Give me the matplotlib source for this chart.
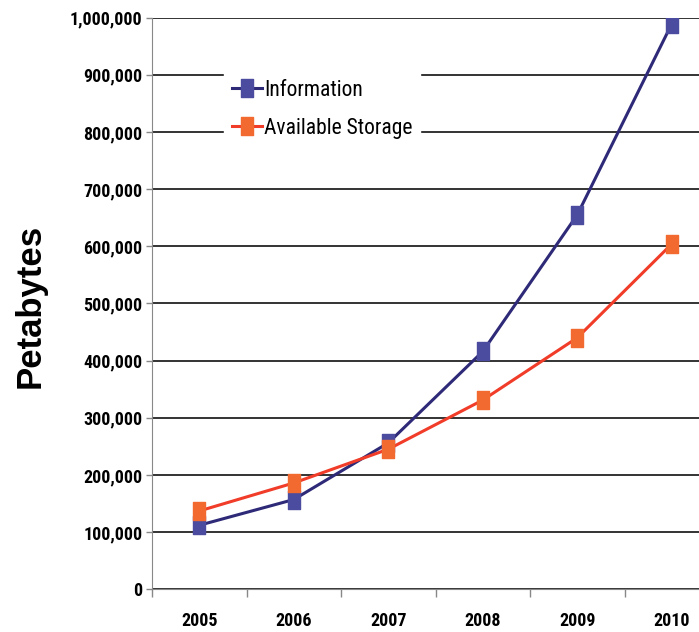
import matplotlib
matplotlib.use("Agg")
import matplotlib.pyplot as plt
from matplotlib.path import Path
from matplotlib.ticker import FuncFormatter, MultipleLocator

# ── DATA ───────────────────────────────────────────
years       = ["2005", "2006", "2007", "2008", "2009", "2010"]
information = [112000, 157000, 256000, 416000, 655000, 989000]
storage     = [137000, 186000, 245000, 331000, 440000, 604000]

narrow = ["Roboto Condensed", "DejaVu Sans"]

# tall square marker (the original picture is squeezed horizontally)
box = Path([(-0.6, -1), (0.6, -1), (0.6, 1), (-0.6, 1), (-0.6, -1)],
           [Path.MOVETO, Path.LINETO, Path.LINETO, Path.LINETO, Path.CLOSEPOLY])

fig = plt.figure(figsize=(6.99, 6.32), dpi=100)
ax = fig.add_axes([152/699, 42.7/632, 567/699, 571.7/632])

x = list(range(len(years)))
ax.plot(x, information, color='#2e2a78', linewidth=2.2, marker=box, markersize=13.5,
        markerfacecolor='#4b4ba0', markeredgecolor='#4b4ba0', label='Information', zorder=3)
ax.plot(x, storage, color='#f03c28', linewidth=2.2, marker=box, markersize=13.5,
        markerfacecolor='#f26a30', markeredgecolor='#f26a30', label='Available Storage', zorder=3)

ax.set_xlim(-0.5, 5.5)
ax.set_ylim(0, 1000000)
ax.yaxis.set_major_locator(MultipleLocator(100000))
ax.yaxis.set_major_formatter(FuncFormatter(lambda v, p: f"{int(v):,}"))
ax.grid(axis='y', color='#333333', linewidth=1.4)
ax.set_axisbelow(True)

ax.set_xticks(x)
ax.set_xticklabels(years)
ax.set_xticks([i - 0.5 for i in range(len(years) + 1)], minor=True)
ax.tick_params(axis='x', which='major', length=0, pad=16)
ax.tick_params(axis='x', which='minor', length=6, color='#888888', width=1)
ax.tick_params(axis='y', length=4, color='#888888', width=1, pad=3)
for lab in ax.get_xticklabels() + ax.get_yticklabels():
    lab.set_family(narrow)
    lab.set_fontweight('bold')
    lab.set_fontsize(13)

for s in ['top', 'right']:
    ax.spines[s].set_visible(False)
ax.spines['left'].set_color('#888888')
ax.spines['bottom'].set_color('#888888')

fig.text(30/699, 1 - 306/632, "Petabytes", rotation=90, ha='center', va='center',
         fontsize=25, fontweight='bold', family='Liberation Sans')

leg = ax.legend(loc='upper left', bbox_to_anchor=(0.127, 0.9045), borderaxespad=0,
                frameon=True, facecolor='white', edgecolor='white', framealpha=1,
                fancybox=False, handlelength=1.4, handletextpad=0.1, labelspacing=0.8,
                markerscale=1.0, borderpad=0.35,
                prop={'family': narrow, 'size': 15.5})

fig.savefig("out.png", dpi=100)
